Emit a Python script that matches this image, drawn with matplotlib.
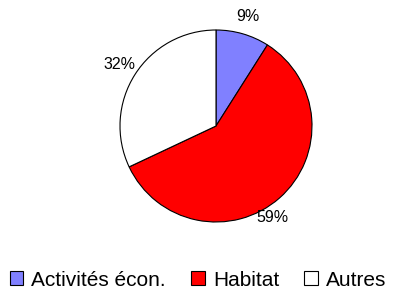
import matplotlib.pyplot as plt
import numpy as np

plt.rcParams['font.family'] = ['Liberation Sans', 'DejaVu Sans']

labels = ["Activités écon.", "Habitat", "Autres"]
values = [9, 59, 32]
colors = ["#8080FF", "#FF0000", "#FFFFFF"]

fig = plt.figure(figsize=(3.96, 2.9), dpi=100)
# pie centre at (216, 126) px from top-left, radius ~96 px
ax = fig.add_axes([116/396, 64/290, 200/396, 200/290])
wedges, texts, autotexts = ax.pie(values, colors=colors, startangle=90, counterclock=False,
                                  autopct='%.0f%%', pctdistance=1.19,
                                  wedgeprops=dict(edgecolor='black', linewidth=0.8),
                                  textprops=dict(fontsize=11.5))
# Excel places the 59% label a bit closer / lower
theta = np.deg2rad(-58.5)
autotexts[1].set_position((1.12*np.cos(theta), 1.12*np.sin(theta)))
ax.set_xlim(-100/96, 100/96)
ax.set_ylim(-100/96, 100/96)
ax.set_aspect('equal')

fig.legend(wedges, labels, loc='center', bbox_to_anchor=(0.5, 10/290), ncol=3,
           frameon=False, fontsize=15, handlelength=0.65, handleheight=0.65,
           handletextpad=0.4, columnspacing=1.2, borderpad=0)

fig.savefig("out.png", dpi=100)
